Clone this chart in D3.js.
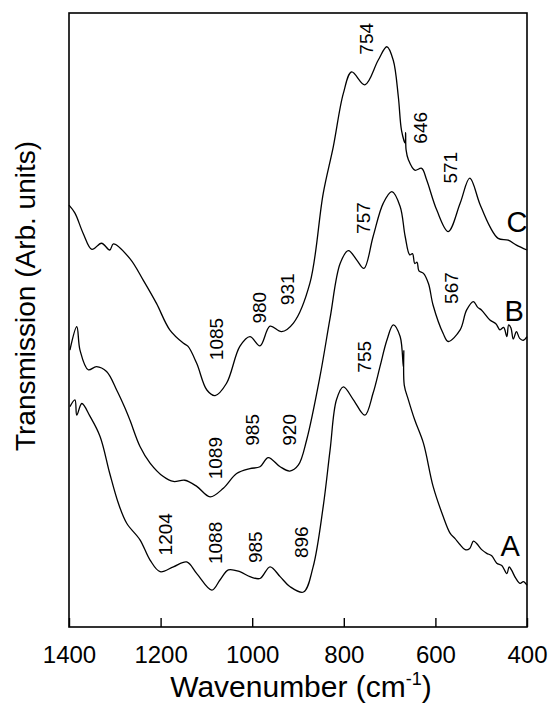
<!DOCTYPE html>
<html lang="en">
<head>
    <meta charset="UTF-8">
    <title>IR spectra</title>
    <script src="https://cdn.jsdelivr.net/npm/d3@7"></script>
    <style>
        body { margin: 0; background: #fff; }
        text { font-family: "Liberation Sans", Arial, sans-serif; fill: #000; }
    </style>
</head>
<body>
<script>
    var width = 548;
    var height = 710;

    // spectrum C (top)
    var wnC = [1400, 1387, 1369, 1350, 1329, 1311, 1303, 1267, 1238, 1209, 1180, 1150, 1140, 1121, 1099, 1081,
        1056, 1027, 1005, 983, 961, 936, 910, 874, 845, 823, 801, 783, 754, 725, 706, 692, 681, 674, 666,
        665, 664, 659, 645, 630, 619, 597, 572, 546, 525, 503, 481, 463, 441, 423, 400];
    var tC = [68.7, 67.4, 64.1, 61.5, 62.5, 61.4, 62.4, 60.0, 56.5, 52.7, 48.4, 46.2, 45.7, 42.9, 38.6, 37.7,
        39.7, 45.7, 47.3, 45.8, 49.0, 48.1, 49.5, 56.0, 70.6, 78.2, 86.9, 90.4, 88.3, 92.3, 94.5, 92.3, 86.4, 80.9, 78.8,
        80.5, 77.7, 76.1, 74.4, 74.7, 72.8, 67.9, 64.4, 69.0, 73.1, 68.9, 65.2, 63.3, 63.0, 62.2, 61.4];

    // spectrum B (middle)
    var wnB = [1398, 1383, 1376, 1358, 1340, 1318, 1296, 1278, 1267, 1245, 1223, 1194, 1172, 1147, 1121, 1092,
        1063, 1034, 1005, 983, 965, 939, 918, 899, 881, 852, 830, 808, 790, 772, 756, 736, 714, 695, 677,
        666, 656, 650, 645, 640, 636, 626, 615, 605, 583, 572, 546, 532, 517, 508, 499, 481, 468, 459, 451, 444, 440,
        435, 430, 423, 416, 408, 400];
    var tB = [45.1, 48.9, 45.1, 41.9, 42.4, 41.6, 38.6, 35.7, 33.7, 29.4, 26.7, 24.5, 23.7, 23.9, 22.9, 21.2,
        22.6, 25.0, 25.8, 26.1, 27.6, 26.1, 25.4, 26.4, 30.5, 40.8, 50.3, 59.2, 61.3, 59.8, 58.4, 63.6, 69.0, 70.9, 68.5,
        63.6, 60.6, 60.8, 59.2, 59.4, 58.0, 57.6, 55.9, 52.4, 47.8, 46.5, 48.4, 51.6, 53.0, 52.1, 51.6, 50.0, 49.4, 48.4, 48.8, 47.3, 49.2,
        48.7, 46.9, 48.1, 47.0, 46.7, 47.3];

    // spectrum A (bottom)
    var wnA = [1398, 1387, 1383, 1372, 1354, 1332, 1311, 1292, 1274, 1245, 1223, 1201, 1172, 1143, 1121, 1088,
        1070, 1052, 1027, 1005, 983, 961, 939, 918, 888, 867, 845, 830, 816, 801, 779, 754, 736, 721, 706,
        692, 677, 670, 669, 668, 659, 645, 626, 605, 583, 568, 557, 546, 535, 525, 517, 510, 499, 488, 477,
        466, 455, 444, 439, 434, 425, 415, 408, 400];
    var tA = [35.9, 37.0, 34.5, 36.4, 34.3, 31.0, 25.0, 20.1, 16.9, 14.2, 10.9, 9.0, 9.8, 10.6, 8.7, 6.0,
        7.7, 9.3, 9.0, 8.2, 7.9, 9.8, 8.2, 6.6, 5.7, 9.8, 19.6, 28.8, 37.0, 39.1, 37.0, 34.5, 38.1, 42.4, 46.7,
        49.2, 47.3, 42.4, 45.0, 39.4, 37.0, 33.7, 29.9, 22.9, 18.0, 15.3, 14.4, 13.4, 12.6, 12.8, 14.0, 13.6, 12.6, 12.0, 11.6,
        10.4, 10.0, 8.7, 9.8, 9.3, 8.0, 7.1, 7.4, 6.8];

    var xTicks = [1400, 1200, 1000, 800, 600, 400];

    // peak labels: text, wavenumber position, level
    var peakText = ["1085", "980", "931", "754", "646", "571",
        "1089", "985", "920", "757", "567",
        "1204", "1088", "985", "896", "755"];
    var peakWn = [1077, 983, 922, 750, 633, 567, 1080, 999, 919, 757, 565, 1189, 1080, 993, 892, 755];
    var peakLevel = [46.9, 52.0, 55.0, 95.8, 81.3, 74.8, 27.5, 32.1, 32.1, 66.6, 55.2, 15.1, 13.7, 13.0, 13.8, 44.0];

    var seriesName = ["C", "B", "A"];
    var nameWn = [422, 428, 437];
    var nameLevel = [66.0, 51.5, 13.2];

    var plotL = 69, plotR = 527, plotT = 13, plotB = 627;

    var svg = d3.select("body").append("svg").attr("width", width).attr("height", height);

    var xScale = d3.scaleLinear().domain([1400, 400]).range([plotL, plotR]);
    var yScale = d3.scaleLinear().domain([0, 100]).range([plotB, plotT]);

    // frame
    svg.append("rect")
        .attr("x", plotL).attr("y", plotT)
        .attr("width", plotR - plotL).attr("height", plotB - plotT)
        .attr("fill", "none").attr("stroke", "#000").attr("stroke-width", 1.6);

    // bottom axis, ticks pointing inward
    var xAxis = d3.axisBottom(xScale).tickValues(xTicks).tickFormat(d3.format("d"))
        .tickSizeInner(-9).tickSizeOuter(0).tickPadding(19);
    var gx = svg.append("g").attr("transform", "translate(0," + plotB + ")").call(xAxis);
    gx.select(".domain").remove();
    gx.selectAll("line").attr("stroke-width", 1.4);
    gx.selectAll("text").attr("font-size", 24).style("font-family", "'Liberation Sans', Arial, sans-serif");

    var line = d3.line()
        .x(function (d) { return xScale(d[0]); })
        .y(function (d) { return yScale(d[1]); })
        .curve(d3.curveCatmullRom.alpha(0.5));

    [[wnC, tC], [wnB, tB], [wnA, tA]].forEach(function (s) {
        svg.append("path")
            .datum(d3.zip(s[0], s[1]))
            .attr("d", line)
            .attr("fill", "none")
            .attr("stroke", "#000")
            .attr("stroke-width", 1.3);
    });

    // rotated peak labels
    svg.selectAll("text.peak")
        .data(peakText)
        .enter()
        .append("text")
        .attr("class", "peak")
        .attr("transform", function (d, i) {
            return "translate(" + xScale(peakWn[i]) + "," + yScale(peakLevel[i]) + ") rotate(-90)";
        })
        .attr("text-anchor", "middle")
        .attr("dominant-baseline", "central")
        .attr("font-size", 19)
        .text(function (d) { return d; });

    // series letters
    svg.selectAll("text.name")
        .data(seriesName)
        .enter()
        .append("text")
        .attr("class", "name")
        .attr("x", function (d, i) { return xScale(nameWn[i]); })
        .attr("y", function (d, i) { return yScale(nameLevel[i]); })
        .attr("text-anchor", "middle")
        .attr("dominant-baseline", "central")
        .attr("font-size", 29)
        .text(function (d) { return d; });

    // axis titles
    var xl = svg.append("text")
        .attr("x", 301).attr("y", 697)
        .attr("text-anchor", "middle")
        .attr("font-size", 30);
    xl.append("tspan").text("Wavenumber (cm");
    xl.append("tspan").attr("font-size", 18).attr("dy", -12).text("-1");
    xl.append("tspan").attr("dy", 12).text(")");

    svg.append("text")
        .attr("transform", "translate(35,296) rotate(-90)")
        .attr("text-anchor", "middle")
        .attr("font-size", 28)
        .text("Transmission (Arb. units)");
</script>
</body>
</html>
